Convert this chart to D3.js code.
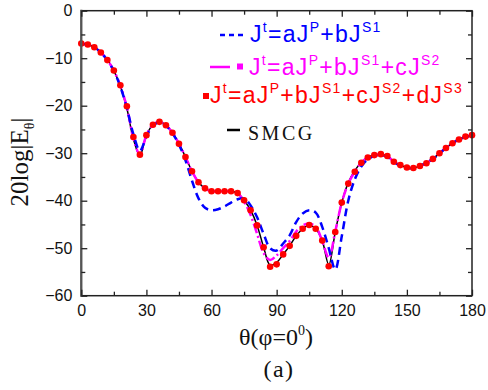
<!DOCTYPE html>
<html><head><meta charset="utf-8">
<script src="https://cdn.jsdelivr.net/npm/d3@7"></script>
<style>body{margin:0;background:#fff}svg{display:block}</style>
</head><body>
<script>
const theta = [0,3,6,9,12,15,18,21,24,27,30,33,36,39,42,45,48,51,54,57,60,63,66,69,72,75,78,81,84,87,90,93,96,99,102,105,108,111,114,117,120,123,126,129,132,135,138,141,144,147,150,153,156,159,162,165,168,171,174,177,180];
const jS1 = [-7,-7.1,-7.7,-8.8,-10.4,-12.7,-16,-20.5,-26,-29.5,-26.5,-24.2,-23.5,-24.2,-25.8,-28.2,-31.5,-35.8,-39.5,-41.5,-42,-41.8,-41.2,-40.4,-39.7,-39.5,-41,-43.5,-47,-50,-50.5,-49,-47.3,-44.5,-42.7,-42,-42.5,-45.5,-50,-54.5,-47.5,-40,-35.5,-32.8,-31.3,-30.6,-30.4,-30.8,-31.8,-32.7,-33.1,-33.1,-32.6,-32,-31.2,-30.1,-28.9,-27.9,-27.1,-26.6,-26.3];
const jS2 = [-6.9,-7.1,-7.7,-8.8,-10.4,-12.6,-15.8,-20.3,-26.8,-30.3,-26.2,-24,-23.4,-24.1,-25.7,-28,-30.8,-33.8,-36.1,-37.4,-38,-38,-38,-38,-38.4,-40.2,-43,-47,-51,-52.5,-51.5,-50,-48.5,-46.5,-45.2,-44.8,-45.5,-48.5,-52,-46.5,-40.4,-36.4,-33.9,-32,-30.9,-30.4,-30.2,-30.6,-31.8,-32.5,-33,-33.1,-32.7,-32.1,-31.2,-30,-28.9,-27.9,-27.1,-26.5,-26.2];
const jS3 = [-6.9,-7.1,-7.7,-8.8,-10.4,-12.6,-15.7,-20.1,-26.6,-30.3,-26.2,-24,-23.4,-24.1,-25.7,-28,-30.8,-33.8,-36.1,-37.4,-38,-38,-38,-38,-38.4,-39.9,-42,-45.2,-49.8,-53.9,-53.4,-51.3,-49.5,-47.4,-45.9,-45.1,-45.9,-48.4,-53.8,-46.6,-40.4,-36.4,-33.9,-32,-30.9,-30.4,-30.2,-30.6,-31.8,-32.5,-33,-33.1,-32.7,-32.1,-31.2,-30,-28.9,-27.9,-27.1,-26.5,-26.2];
const smcg = [-6.9,-7.1,-7.7,-8.8,-10.3,-12.6,-15.9,-20.6,-27,-30.5,-26.2,-24,-23.4,-24.1,-25.7,-28,-30.8,-33.8,-36.1,-37.4,-38,-38,-38,-38,-38.4,-39.9,-42,-45.2,-49.8,-53.6,-53,-51.3,-49.5,-47.4,-45.9,-45.1,-45.9,-48.4,-53.5,-46.6,-40.4,-36.2,-33.7,-31.9,-30.9,-30.4,-30.2,-30.6,-31.8,-32.5,-33,-33.1,-32.7,-32.1,-31.2,-30,-28.9,-27.9,-27.1,-26.5,-26.2];
const xTicks = [0,30,60,90,120,150,180];
const yTicks = [0,-10,-20,-30,-40,-50,-60];

const W = 488, H = 390;
const svg = d3.select("body").append("svg").attr("width", W).attr("height", H);
const x = d3.scaleLinear().domain([0,180]).range([81.3,472]);
const y = d3.scaleLinear().domain([-60,0]).range([295.7,10.7]);

const data = (arr) => theta.map((t,i)=>[t,arr[i]]);
const line = d3.line().x(d=>x(d[0])).y(d=>y(d[1])).curve(d3.curveCatmullRom.alpha(0.5));

// curves
svg.append("path").attr("d", line(data(smcg))).attr("fill","none").attr("stroke","#000").attr("stroke-width",1.5);
svg.append("path").attr("d", line(data(jS2))).attr("fill","none").attr("stroke","#ff00ff").attr("stroke-width",2.5).attr("stroke-dasharray","10,3,2,3");
svg.append("path").attr("d", line(data(jS1))).attr("fill","none").attr("stroke","#0000ff").attr("stroke-width",2.5).attr("stroke-dasharray","8,5");
svg.selectAll("circle.d").data(data(jS3)).enter().append("circle").attr("class","d")
  .attr("cx",d=>x(d[0])).attr("cy",d=>y(d[1])).attr("r",3.3).attr("fill","#ff0000");

// frame and ticks
const axColor = "#222";
const g = svg.append("g");
g.append("rect").attr("x",x(0)).attr("y",y(0)).attr("width",x(180)-x(0)).attr("height",y(-60)-y(0))
  .attr("fill","none").attr("stroke",axColor).attr("stroke-width",1.5);
g.append("line").attr("x1",x(0)).attr("x2",x(0)).attr("y1",y(0)-1).attr("y2",y(-60)+1).attr("stroke","#555").attr("stroke-width",2.2);

const xMinor = d3.range(15,180,30), yMinor = d3.range(-55,0,10);
function styleAx(sel){ sel.select(".domain").remove(); sel.selectAll("line").attr("stroke",axColor).attr("stroke-width",1.3);
  sel.selectAll("text").filter(function(){ return !this.textContent; }).remove();
  sel.selectAll("text").attr("font-family","Arial, 'Liberation Sans', sans-serif").attr("font-size",16).attr("fill","#111"); }
svg.append("g").attr("transform",`translate(0,${y(-60)})`).call(d3.axisBottom(x).tickValues(xTicks).tickSize(-6).tickPadding(9).tickFormat(d3.format("d"))).call(styleAx);
svg.append("g").attr("transform",`translate(0,${y(0)})`).call(d3.axisTop(x).tickValues(xTicks).tickSize(-6).tickFormat("")).call(styleAx);
svg.append("g").attr("transform",`translate(${x(0)},0)`).call(d3.axisLeft(y).tickValues(yTicks).tickSize(-6).tickPadding(9).tickFormat(d3.format("d"))).call(styleAx);
svg.append("g").attr("transform",`translate(${x(180)},0)`).call(d3.axisRight(y).tickValues(yTicks).tickSize(-6).tickFormat("")).call(styleAx);
svg.append("g").attr("transform",`translate(0,${y(-60)})`).call(d3.axisBottom(x).tickValues(xMinor).tickSize(-4).tickFormat("")).call(styleAx);
svg.append("g").attr("transform",`translate(0,${y(0)})`).call(d3.axisTop(x).tickValues(xMinor).tickSize(-4).tickFormat("")).call(styleAx);
svg.append("g").attr("transform",`translate(${x(0)},0)`).call(d3.axisLeft(y).tickValues(yMinor).tickSize(-4).tickFormat("")).call(styleAx);
svg.append("g").attr("transform",`translate(${x(180)},0)`).call(d3.axisRight(y).tickValues(yMinor).tickSize(-4).tickFormat("")).call(styleAx);

// axis labels
const serif = "'Liberation Serif','Times New Roman',serif";
const yl = svg.append("text").attr("transform","translate(28,162) rotate(-90)").attr("text-anchor","middle")
  .attr("font-family",serif).attr("font-size",25).attr("fill","#111");
yl.append("tspan").text("20log|E");
yl.append("tspan").text("θ").attr("font-size",14).attr("dy",6);
yl.append("tspan").text("|").attr("dy",-6);
const xl = svg.append("text").attr("x",276).attr("y",345).attr("text-anchor","middle")
  .attr("font-family",serif).attr("font-size",24).attr("fill","#111");
xl.append("tspan").text("θ(φ=0");
xl.append("tspan").text("0").attr("font-size",14).attr("dy",-10);
xl.append("tspan").text(")").attr("dy",10);
svg.append("text").attr("x",279).attr("y",377).attr("text-anchor","middle").attr("font-family",serif)
  .attr("font-size",24).attr("letter-spacing",1.5).attr("fill","#111").text("(a)");

// legend
const sans = "Arial,'Liberation Sans',sans-serif";
function formula(xp, yp, color, parts){
  const t = svg.append("text").attr("x",xp).attr("y",yp).attr("font-family",sans).attr("font-size",23)
    .attr("letter-spacing",1.3).attr("fill",color);
  let shift = 0;
  parts.forEach(([s,sup])=>{
    const dy = (sup ? -10 : 0) - shift;
    shift += dy;
    const ts = t.append("tspan").text(s).attr("dy",dy);
    if(sup) ts.attr("font-size",14);
  });
}
svg.append("line").attr("x1",220).attr("x2",243).attr("y1",35).attr("y2",35).attr("stroke","#0000ff").attr("stroke-width",2.5).attr("stroke-dasharray","5,4");
formula(250,42,"#0000ff",[["J"],["t",1],["=aJ"],["P",1],["+bJ"],["S1",1]]);
svg.append("line").attr("x1",210).attr("x2",230).attr("y1",67).attr("y2",67).attr("stroke","#ff00ff").attr("stroke-width",2.5);
svg.append("rect").attr("x",237).attr("y",63.5).attr("width",6).attr("height",6).attr("fill","#ff00ff");
formula(249,75,"#ff00ff",[["J"],["t",1],["=aJ"],["P",1],["+bJ"],["S1",1],["+cJ"],["S2",1]]);
svg.append("rect").attr("x",203).attr("y",93).attr("width",6).attr("height",6).attr("fill","#ff0000");
formula(210,103,"#ff0000",[["J"],["t",1],["=aJ"],["P",1],["+bJ"],["S1",1],["+cJ"],["S2",1],["+dJ"],["S3",1]]);
svg.append("line").attr("x1",227).attr("x2",240).attr("y1",130).attr("y2",130).attr("stroke","#000").attr("stroke-width",2.5);
svg.append("text").attr("x",248).attr("y",140).attr("font-family",serif).attr("font-size",20).attr("fill","#111")
  .attr("letter-spacing",2.5).text("SMCG");
</script>
</body></html>
